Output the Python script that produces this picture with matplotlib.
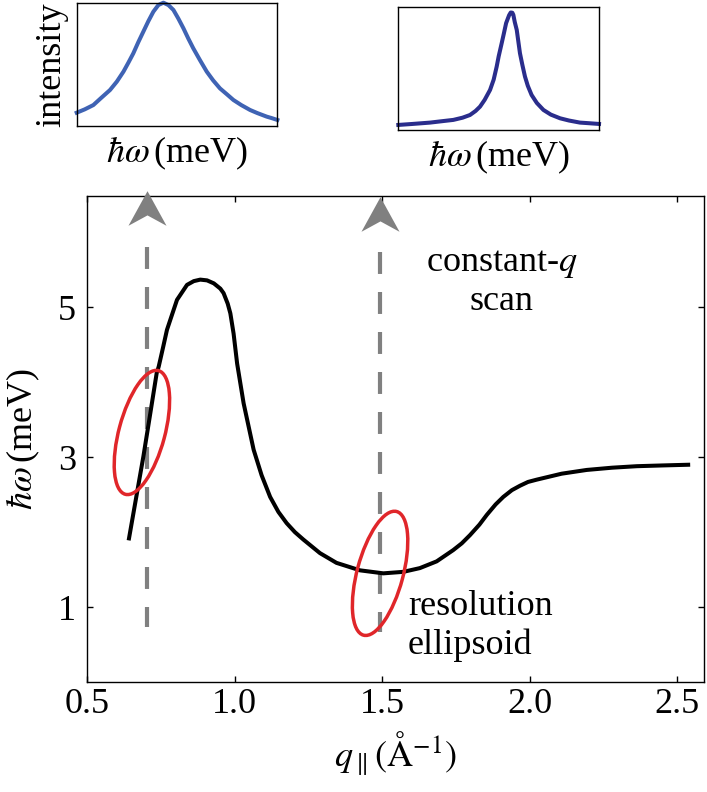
import matplotlib
matplotlib.use('Agg')
import matplotlib.pyplot as plt
from matplotlib.path import Path
from matplotlib.patches import Ellipse
from matplotlib import transforms

plt.rcParams['font.family'] = ['Liberation Serif', 'DejaVu Serif']
plt.rcParams['mathtext.fontset'] = 'stix'
plt.rcParams['lines.scale_dashes'] = False

# dispersion curve: q (1/A), energy (meV)
disp_q = [0.640, 0.665, 0.690, 0.712, 0.735, 0.742, 0.757, 0.770, 0.781, 0.804, 0.838,
          0.861, 0.883, 0.906, 0.929, 0.951, 0.962, 0.976, 0.985, 0.996, 1.008, 1.030,
          1.064, 1.091, 1.120, 1.148, 1.176, 1.204, 1.233, 1.289, 1.345, 1.425, 1.504,
          1.572, 1.628, 1.685, 1.741, 1.770, 1.798, 1.830, 1.855, 1.885, 1.911, 1.940,
          1.968, 1.995, 2.024, 2.109, 2.194, 2.280, 2.364, 2.450, 2.545]
disp_e = [1.89, 2.45, 3.01, 3.55, 4.12, 4.21, 4.47, 4.70, 4.83, 5.10, 5.30,
          5.35, 5.37, 5.36, 5.32, 5.25, 5.19, 5.05, 4.92, 4.65, 4.25, 3.72,
          3.10, 2.76, 2.47, 2.27, 2.12, 2.00, 1.90, 1.72, 1.59, 1.49, 1.45,
          1.47, 1.52, 1.61, 1.76, 1.85, 1.96, 2.10, 2.23, 2.37, 2.47, 2.56,
          2.62, 2.67, 2.70, 2.78, 2.83, 2.86, 2.88, 2.89, 2.90]

# constant-q scans (dashed arrows)
scan_q = [0.703, 1.492]
scan_bottom = [0.74, 0.67]
scan_top = [5.80, 5.74]
head_e = [6.32, 6.24]

# resolution ellipsoids (centres)
ell_q = [0.685, 1.493]
ell_e = [3.33, 1.45]

# inset line shapes (fraction of the inset box)
left_x = [0.0, 0.04, 0.083, 0.12, 0.166, 0.20, 0.233, 0.258, 0.282, 0.307, 0.332, 0.357,
          0.382, 0.407, 0.432, 0.457, 0.482, 0.507, 0.532, 0.556, 0.581, 0.614, 0.648,
          0.68, 0.714, 0.75, 0.781, 0.82, 0.864, 0.90, 0.947, 0.97, 1.0]
left_y = [0.108, 0.135, 0.170, 0.225, 0.292, 0.360, 0.441, 0.515, 0.589, 0.680, 0.765, 0.850,
          0.927, 0.981, 1.0, 0.981, 0.941, 0.870, 0.792, 0.710, 0.630, 0.535, 0.441,
          0.370, 0.305, 0.255, 0.211, 0.170, 0.130, 0.105, 0.076, 0.065, 0.049]
right_x = [0.0, 0.07, 0.158, 0.21, 0.274, 0.32, 0.357, 0.385, 0.407, 0.43, 0.457, 0.475,
           0.490, 0.50, 0.515, 0.525, 0.537, 0.545, 0.552, 0.560, 0.568, 0.573, 0.58,
           0.590, 0.598, 0.606, 0.618, 0.631, 0.645, 0.664, 0.69, 0.723, 0.76, 0.806,
           0.85, 0.905, 0.95, 1.0]
right_y = [0.041, 0.049, 0.060, 0.070, 0.082, 0.100, 0.122, 0.155, 0.190, 0.245, 0.326, 0.410,
           0.516, 0.600, 0.707, 0.780, 0.870, 0.905, 0.935, 0.957, 0.955, 0.938, 0.880,
           0.815, 0.720, 0.625, 0.530, 0.435, 0.360, 0.285, 0.220, 0.163, 0.125, 0.095,
           0.077, 0.060, 0.055, 0.049]

xticks = [0.5, 1.0, 1.5, 2.0, 2.5]
xticklabels = ['0.5', '1.0', '1.5', '2.0', '2.5']
yticks = [1, 3, 5]

FS = 26
GRAY = '#808080'
RED = '#e0262a'

fig = plt.figure(figsize=(7.07, 7.92), dpi=100)

# ---- main panel
ax = fig.add_axes([0.1236, 0.1389, 0.8722, 0.614])
ax.plot(disp_q, disp_e, color='black', lw=2.9, solid_joinstyle='round',
        solid_capstyle='butt', zorder=3)

# stealth style arrow head
head = Path([(0, 0.5), (0.55, -0.5), (0, -0.2), (-0.55, -0.5), (0, 0.5)],
            [Path.MOVETO, Path.LINETO, Path.LINETO, Path.LINETO, Path.CLOSEPOLY])
for q, lo, hi, he in zip(scan_q, scan_bottom, scan_top, head_e):
    ax.plot([q, q], [hi, lo], color=GRAY, lw=3.0, dashes=[15.8, 13.0],
            solid_capstyle='butt', zorder=2)
    ax.plot([q], [he], marker=head, markersize=27.4, color=GRAY,
            markeredgewidth=0, clip_on=False, zorder=4)

for q, e in zip(ell_q, ell_e):
    tr = fig.dpi_scale_trans + transforms.ScaledTranslation(q, e, ax.transData)
    ax.add_patch(Ellipse((0, 0), 1.28, 0.46, angle=75, transform=tr,
                         fill=False, edgecolor=RED, lw=2.5, zorder=5))

# va='baseline' lines up the last line of a multi-line text
ax.text(1.906, 4.96, 'constant-$q$\nscan', fontsize=FS, ha='center',
        va='baseline', multialignment='center')
ax.text(1.588, 0.377, 'resolution\nellipsoid', fontsize=FS, ha='left',
        va='baseline')

ax.set_xlim(0.5, 2.592)
ax.set_ylim(0, 6.49)
ax.set_xticks(xticks)
ax.set_xticklabels(xticklabels)
ax.set_yticks(yticks)
ax.tick_params(direction='in', top=True, right=True, length=4, width=1,
               labelsize=FS)
ax.tick_params(axis='x', pad=4)
ax.tick_params(axis='y', pad=8)
for s in ax.spines.values():
    s.set_linewidth(1.0)
ax.set_xlabel(r'$q_{\parallel}(\mathrm{\AA}^{-1})$', fontsize=FS, labelpad=6)
ax.set_ylabel(r'$\hbar\omega\,$(meV)', fontsize=FS)
ax.yaxis.set_label_coords(-0.074, 0.5)

# ---- insets
ins1 = fig.add_axes([0.1085, 0.8409, 0.2838, 0.1557])
ins1.plot(left_x, left_y, color='#3f63b4', lw=2.9, clip_on=False,
          solid_joinstyle='round')
ins1.set_ylabel('intensity', fontsize=FS, labelpad=6)

ins2 = fig.add_axes([0.5634, 0.8359, 0.2839, 0.155])
ins2.plot(right_x, right_y, color='#2a2d8c', lw=2.9, clip_on=False,
          solid_joinstyle='round')

for a in (ins1, ins2):
    a.set_xlim(0, 1)
    a.set_ylim(0, 1)
    a.set_xticks([])
    a.set_yticks([])
    for s in a.spines.values():
        s.set_linewidth(1.0)
    a.set_xlabel(r'$\hbar\omega\,$(meV)', fontsize=FS, labelpad=6)

fig.savefig('out.png', dpi=100)
